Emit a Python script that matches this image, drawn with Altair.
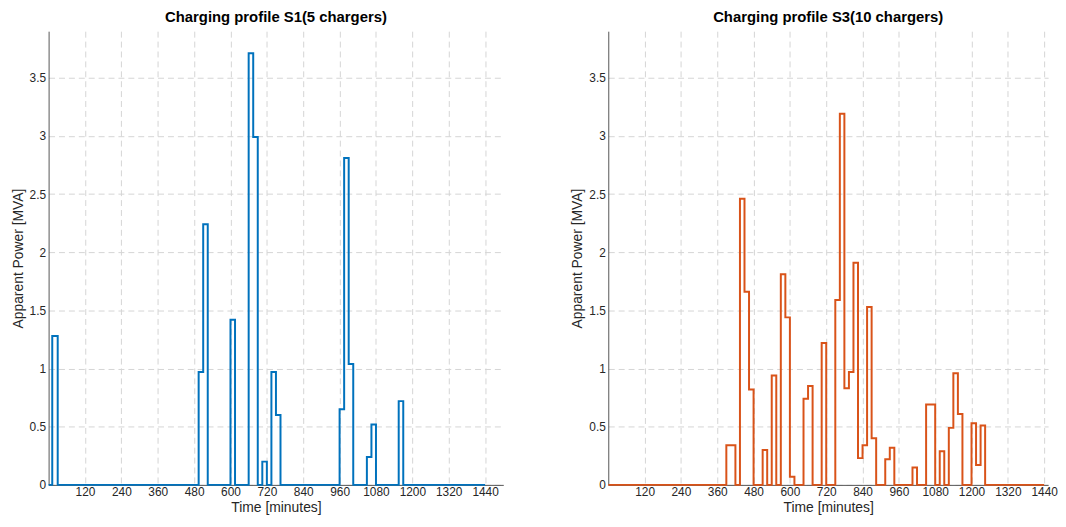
import altair as alt
import pandas as pd

# Step-change points (minute at which a new power level begins) and power levels [MVA]
s1_times = [0, 12, 30, 495, 510, 525, 600, 615, 660, 675, 690, 705, 720, 735, 750, 765,
            960, 975, 990, 1005, 1050, 1065, 1080, 1155, 1170, 1440]
s1_values = [0, 1.28, 0, 0.97, 2.24, 0, 1.42, 0, 3.71, 2.99, 0, 0.20, 0, 0.97, 0.60, 0,
             0.65, 2.81, 1.04, 0, 0.24, 0.52, 0, 0.72, 0, 0]

s3_times = [0, 390, 420, 435, 450, 465, 480, 510, 525, 540, 555, 570, 585, 600, 615,
            645, 660, 675, 705, 720, 750, 765, 780, 795, 810, 825, 840, 855, 870, 885,
            915, 930, 945, 1005, 1020, 1050, 1080, 1095, 1110, 1125, 1140, 1155, 1170,
            1200, 1215, 1230, 1245, 1440]
s3_values = [0, 0.34, 0, 2.46, 1.66, 0.82, 0, 0.30, 0, 0.94, 0, 1.81, 1.44, 0.07, 0,
             0.74, 0.85, 0, 1.22, 0, 1.59, 3.19, 0.83, 0.97, 1.91, 0.23, 0.34, 1.53, 0.40, 0,
             0.22, 0.32, 0, 0.15, 0, 0.69, 0, 0.29, 0, 0.49, 0.96, 0.61, 0,
             0.53, 0.17, 0.51, 0, 0]

x_ticks = [120, 240, 360, 480, 600, 720, 840, 960, 1080, 1200, 1320, 1440]
y_ticks = [0, 0.5, 1, 1.5, 2, 2.5, 3, 3.5]

titles = ["Charging profile S1(5 chargers)", "Charging profile S3(10 chargers)"]
colors = ["#0072BD", "#D95319"]

FONT = "Liberation Sans"


def panel(times, values, title, color, width, xmax):
    df = pd.DataFrame({"t": times, "p": values})
    return alt.Chart(df).mark_line(
        interpolate="step-after", color=color, strokeWidth=2
    ).encode(
        x=alt.X("t:Q", scale=alt.Scale(domain=[0, xmax], nice=False, zero=False),
                axis=alt.Axis(values=x_ticks, title="Time [minutes]", format="d")),
        y=alt.Y("p:Q", scale=alt.Scale(domain=[0, 3.9], nice=False),
                axis=alt.Axis(values=y_ticks, title="Apparent Power [MVA]", format="~g")),
    ).properties(
        width=width, height=458,
        title=alt.TitleParams(title, fontSize=15, fontWeight="bold", font=FONT,
                              color="#000000", offset=6, anchor="middle"),
    )


left = panel(s1_times, s1_values, titles[0], colors[0], 459, 1500)
right = panel(s3_times, s3_values, titles[1], colors[1], 444, 1453)

chart = alt.hconcat(left, right, spacing=68).properties(
    padding={"left": 3, "top": 0, "right": 0, "bottom": 0}
).configure_view(stroke=None).configure_axis(
    labelFont=FONT, titleFont=FONT, labelFontSize=12, titleFontSize=14,
    labelColor="#262626", titleColor="#262626", titleFontWeight="normal",
    domainColor="#555555", domainWidth=1,
    ticks=False,
    grid=True, gridColor="#d4d4d4", gridDash=[6, 4], gridWidth=1,
).configure_axisY(titlePadding=4, labelPadding=3).configure_axisX(
    titlePadding=3, labelPadding=2
)

chart.save("out.html", embed_options={"renderer": "svg", "actions": False})
